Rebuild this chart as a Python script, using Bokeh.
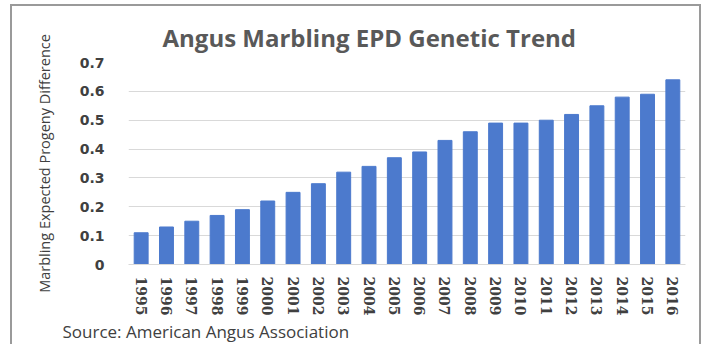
from bokeh.plotting import figure
from bokeh.models import Title, FactorRange, ColumnDataSource, Range1d, FixedTicker
from bokeh.embed import file_html
from bokeh.resources import INLINE

years = [str(y) for y in range(1995, 2017)]
epd = [0.11, 0.13, 0.15, 0.17, 0.19, 0.22, 0.25, 0.28, 0.32, 0.34, 0.37,
       0.39, 0.43, 0.46, 0.49, 0.49, 0.50, 0.52, 0.55, 0.58, 0.59, 0.64]
y_ticks = [0, 0.1, 0.2, 0.3, 0.4, 0.5, 0.6, 0.7]
y_tick_labels = {0: "0", 0.1: "0.1", 0.2: "0.2", 0.3: "0.3", 0.4: "0.4",
                 0.5: "0.5", 0.6: "0.6", 0.7: "0.7"}

title_text = "Angus Marbling EPD Genetic Trend"
y_label = "Marbling Expected Progeny Difference"
source_text = "Source: American Angus Association"

SANS = "Open Sans"
NUM = "DejaVu Sans"
src = ColumnDataSource(dict(year=years, epd=epd))

p = figure(width=691, height=340, x_range=FactorRange(*years, range_padding=0),
           y_range=Range1d(0, 0.7), output_backend="svg", toolbar_location=None,
           min_border_left=116, min_border_right=18, min_border_top=56,
           min_border_bottom=82, title=None)
p.vbar(x="year", top="epd", width=0.55, source=src, color="#4c7acd")

p.outline_line_color = None
p.xgrid.grid_line_color = None
p.ygrid.grid_line_color = "#d9d9d9"
p.ygrid.grid_line_width = 1

p.yaxis.ticker = FixedTicker(ticks=y_ticks)
p.yaxis.major_label_overrides = y_tick_labels
p.yaxis.axis_line_color = None
p.yaxis.major_tick_line_color = None
p.yaxis.minor_tick_line_color = None
p.yaxis.major_label_text_font = NUM
p.yaxis.major_label_text_font_style = "bold"
p.yaxis.major_label_text_font_size = "14px"
p.yaxis.major_label_text_color = "#404040"
p.yaxis.major_label_standoff = 18
p.yaxis.axis_label = y_label
p.yaxis.axis_label_text_font = SANS
p.yaxis.axis_label_text_font_style = "normal"
p.yaxis.axis_label_text_font_size = "14.5px"
p.yaxis.axis_label_text_color = "#404040"
p.yaxis.axis_label_standoff = 23

p.xaxis.axis_line_color = "#d9d9d9"
p.xaxis.major_tick_line_color = None
p.xaxis.minor_tick_line_color = None
p.xaxis.major_label_orientation = "vertical"
p.xaxis.major_label_text_font = "DejaVu Serif"
p.xaxis.major_label_text_font_style = "bold"
p.xaxis.major_label_text_font_size = "14px"
p.xaxis.major_label_text_color = "#404040"
p.xaxis.major_label_standoff = 6

p.add_layout(Title(text=title_text, align="left", offset=34, standoff=18,
                   text_font=SANS, text_font_size="24px", text_font_style="bold",
                   text_color="#595959"), "above")
p.add_layout(Title(text=source_text, align="left", offset=-66, standoff=-1,
                   text_font=SANS, text_font_size="17px", text_font_style="normal",
                   text_color="#404040"), "below")

border = "2px solid #9a9a9a"
p.styles = {"border-left": border, "border-right": border, "border-top": border,
            "position": "relative", "left": "10px", "top": "4px"}

open("out.html", "w").write(file_html(p, INLINE))
